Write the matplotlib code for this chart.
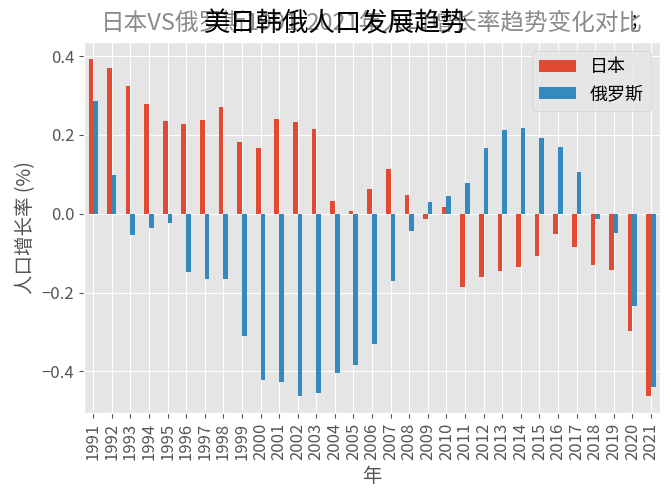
import numpy as np
import pandas as pd
import matplotlib

matplotlib.use("Agg")
import matplotlib.pyplot as plt

plt.style.use("ggplot")
plt.rcParams["font.family"] = ["Noto Sans CJK SC", "DejaVu Sans"]
plt.rcParams["axes.unicode_minus"] = True

years = list(range(1991, 2022))
japan = [0.393, 0.371, 0.324, 0.279, 0.235, 0.227, 0.238, 0.271, 0.182, 0.167,
         0.240, 0.232, 0.214, 0.032, 0.008, 0.062, 0.113, 0.048, -0.013, 0.017,
         -0.187, -0.161, -0.145, -0.135, -0.107, -0.052, -0.084, -0.129, -0.143,
         -0.297, -0.463]
russia = [0.287, 0.097, -0.055, -0.036, -0.023, -0.147, -0.166, -0.166, -0.311,
          -0.423, -0.426, -0.463, -0.456, -0.404, -0.383, -0.330, -0.172, -0.045,
          0.029, 0.044, 0.077, 0.168, 0.213, 0.217, 0.192, 0.170, 0.106, -0.014,
          -0.050, -0.234, -0.439]

df = pd.DataFrame({"日本": japan, "俄罗斯": russia}, index=years)

fig = plt.figure(figsize=(6.71, 5.0), dpi=100)
ax = fig.add_axes([0.125, 0.174, 0.859, 0.742])
df.plot(kind="bar", ax=ax)

# grey axes title with the black figure title drawn over it, as in the reference
ax.set_title("日本VS俄罗斯1991-2021年人口增长率趋势变化对比", fontsize=17,
             color="#8a8a8a", pad=9)
fig.suptitle("美日韩俄人口发展趋势", fontsize=19, color="black", y=0.98)
fig.text(0.94, 0.95, ";", fontsize=14, color="black")

ax.set_xlabel("年", fontsize=14)
ax.set_ylabel("人口增长率 (%)", fontsize=14)
ax.tick_params(axis="both", labelsize=12)
ax.legend(fontsize=13, loc="upper right")

fig.savefig("out.png", dpi=100)
